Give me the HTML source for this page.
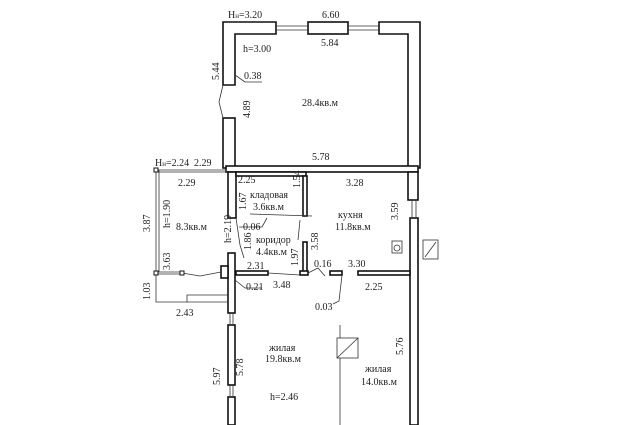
<!DOCTYPE html>
<html><head><meta charset="utf-8"><style>
html,body{margin:0;padding:0;background:#fff;}
svg{display:block;}
text{font-family:"Liberation Serif",serif;font-size:10px;fill:#222;}
</style></head><body>
<svg width="632" height="425" viewBox="0 0 632 425" xmlns="http://www.w3.org/2000/svg">
<g fill="#fff" stroke="#111" stroke-width="1.6">
<path d="M223,22 H276 V34 H235 V85 H223 Z"/>
<rect x="308" y="22" width="40" height="12"/>
<path d="M379,22 H420 V168 H408 V34 H379 Z"/>
<rect x="223" y="118" width="12" height="50"/>
<rect x="226" y="166" width="192" height="6"/>
<rect x="228" y="172" width="8" height="46"/>
<rect x="236" y="172" width="70" height="4"/>
<rect x="303" y="176" width="4" height="40"/>
<rect x="303" y="242" width="4" height="30"/>
<rect x="408" y="172" width="10" height="28"/>
<rect x="410" y="218" width="8" height="207"/>
<rect x="236" y="271" width="32" height="4"/>
<rect x="300" y="271" width="8" height="4"/>
<rect x="330" y="271" width="12" height="4"/>
<rect x="358" y="271" width="52" height="4"/>
<rect x="228" y="253" width="7" height="60"/>
<rect x="221" y="266" width="7" height="12"/>
<rect x="228" y="325" width="7" height="60"/>
<rect x="228" y="397" width="7" height="28"/>
</g>
<g stroke="#333" stroke-width="0.8" fill="none">
<line x1="276" y1="26" x2="308" y2="26"/><line x1="276" y1="30" x2="308" y2="30"/>
<line x1="348" y1="26" x2="379" y2="26"/><line x1="348" y1="30" x2="379" y2="30"/>
<line x1="412" y1="200" x2="412" y2="218"/><line x1="416" y1="200" x2="416" y2="218"/>
<line x1="230" y1="313" x2="230" y2="325"/><line x1="233" y1="313" x2="233" y2="325"/>
<line x1="230" y1="385" x2="230" y2="397"/><line x1="233" y1="385" x2="233" y2="397"/>
<path d="M223,85 L219,102 L223,118"/>
<line x1="156" y1="170" x2="156" y2="272"/><line x1="159" y1="170" x2="159" y2="272"/>
<line x1="156" y1="170" x2="192" y2="170"/><line x1="156" y1="172" x2="192" y2="172"/>
<path d="M192,170 H226 V172 H192"/>
<line x1="156" y1="272" x2="182" y2="272"/><line x1="156" y1="274" x2="182" y2="274"/>
<path d="M182,273 L200,276 L221,272"/>
<path d="M156,274 V302 H228"/>
<path d="M187,302 V295 H228"/>
<line x1="340" y1="325" x2="340" y2="425"/>
<rect x="337" y="338" width="21" height="20" fill="#fff"/>
<line x1="337" y1="358" x2="358" y2="338"/>
<path d="M236,218 L240,245 L244,258"/>
<path d="M300,220 L298,240"/>
<path d="M268,273 L300,275"/>
<path d="M342,275 L339,301 L333,304"/>
<path d="M308,273 L318,268 L325,276"/>
<path d="M235,75 L245,82 L262,82"/>
<path d="M239,227 L262,227 L267,218"/>
<path d="M235,280 L245,288 L262,288"/>
<path d="M312,216 L250,214"/>
<rect x="392" y="241" width="10" height="12"/>
<circle cx="397" cy="248" r="3"/>
<rect x="423" y="240" width="15" height="19"/>
<line x1="425" y1="257" x2="436" y2="242"/>
</g>
<g fill="#fff" stroke="#111" stroke-width="1">
<rect x="154" y="168" width="4" height="4"/><rect x="154" y="271" width="4" height="4"/><rect x="180" y="271" width="4" height="4"/>
</g>
<text x="228" y="18">Н<tspan font-size="7">н</tspan>=3.20</text>
<text x="322" y="18">6.60</text>
<text x="321" y="46">5.84</text>
<text x="243" y="52">h=3.00</text>
<text x="244" y="79">0.38</text>
<text x="302" y="106">28.4кв.м</text>
<text x="312" y="160">5.78</text>
<text x="155" y="166">Н<tspan font-size="7">н</tspan>=2.24</text>
<text x="194" y="166">2.29</text>
<text x="178" y="186">2.29</text>
<text x="238" y="183">2.25</text>
<text x="346" y="186">3.28</text>
<text x="250" y="198">кладовая</text>
<text x="253" y="210">3.6кв.м</text>
<text x="338" y="218">кухня</text>
<text x="335" y="230">11.8кв.м</text>
<text x="176" y="230">8.3кв.м</text>
<text x="243" y="230">0.06</text>
<text x="256" y="243">коридор</text>
<text x="256" y="255">4.4кв.м</text>
<text x="247" y="269">2.31</text>
<text x="314" y="267">0.16</text>
<text x="348" y="267">3.30</text>
<text x="246" y="290">0.21</text>
<text x="273" y="288">3.48</text>
<text x="365" y="290">2.25</text>
<text x="315" y="310">0.03</text>
<text x="176" y="316">2.43</text>
<text x="269" y="351">жилая</text>
<text x="265" y="362">19.8кв.м</text>
<text x="365" y="372">жилая</text>
<text x="361" y="385">14.0кв.м</text>
<text x="270" y="400">h=2.46</text>
<g>
<text transform="translate(219,80) rotate(-90)">5.44</text>
<text transform="translate(250,118) rotate(-90)">4.89</text>
<text transform="translate(246,210) rotate(-90)">1.67</text>
<text transform="translate(300,188) rotate(-90)">1.54</text>
<text transform="translate(231,243) rotate(-90)">h=2.19</text>
<text transform="translate(251,250) rotate(-90)">1.86</text>
<text transform="translate(318,250) rotate(-90)">3.58</text>
<text transform="translate(298,266) rotate(-90)">1.97</text>
<text transform="translate(398,220) rotate(-90)">3.59</text>
<text transform="translate(150,232) rotate(-90)">3.87</text>
<text transform="translate(170,228) rotate(-90)">h=1.90</text>
<text transform="translate(170,270) rotate(-90)">3.63</text>
<text transform="translate(150,300) rotate(-90)">1.03</text>
<text transform="translate(220,385) rotate(-90)">5.97</text>
<text transform="translate(243,376) rotate(-90)">5.78</text>
<text transform="translate(403,355) rotate(-90)">5.76</text>
</g>
</svg>
</body></html>
